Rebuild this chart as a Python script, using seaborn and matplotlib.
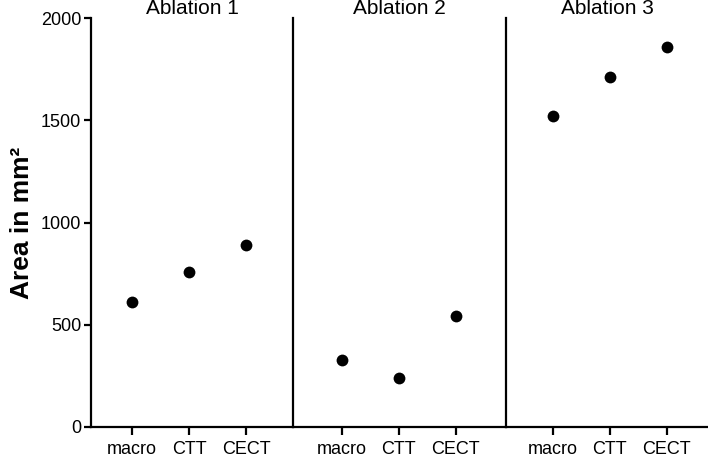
import matplotlib
matplotlib.use("Agg")
import matplotlib.pyplot as plt
import pandas as pd
import seaborn as sns

# Values (area in mm^2)
methods = ["macro", "CTT", "CECT"]
ablations = ["Ablation 1", "Ablation 2", "Ablation 3"]
ablation_1 = [612, 760, 891]
ablation_2 = [327, 237, 543]
ablation_3 = [1521, 1714, 1858]
y_ticks = [0, 500, 1000, 1500, 2000]

df = pd.DataFrame({
    "ablation": [a for a in ablations for _ in methods],
    "method": methods * len(ablations),
    "area": ablation_1 + ablation_2 + ablation_3,
})

sns.set_theme(style="ticks")
plt.rcParams["font.family"] = ["Liberation Sans", "DejaVu Sans"]
plt.rcParams["axes.linewidth"] = 1.6
for key in ["text.color", "axes.labelcolor", "xtick.color", "ytick.color", "axes.edgecolor"]:
    plt.rcParams[key] = "black"

# panel widths / x-limits so the category ticks land where they do in the original
panel_widths = [202, 213, 202]
panel_xlims = [(-0.72, 2.82), (-0.86, 2.88), (-0.82, 2.72)]

fig, axes = plt.subplots(1, 3, sharey=True, figsize=(7.08, 4.57), dpi=100,
                         gridspec_kw={"width_ratios": panel_widths})
fig.subplots_adjust(left=0.1285, right=1.0, bottom=0.066, top=0.96, wspace=0)

for ax, name, xlim in zip(axes, ablations, panel_xlims):
    sub = df[df["ablation"] == name]
    sns.stripplot(data=sub, x="method", y="area", order=methods, jitter=False,
                  color="black", size=8.5, linewidth=0, ax=ax)
    ax.set_xlim(*xlim)
    ax.set_ylim(0, 2000)
    ax.set_title(name, fontsize=15, pad=-0.5)
    ax.set_xlabel("")
    ax.set_ylabel("")
    for side in ["top", "right"]:
        ax.spines[side].set_visible(False)
    ax.tick_params(axis="x", length=6, width=1.6, pad=4, labelsize=13)
    ax.tick_params(axis="y", length=5, width=1.6, pad=2, labelsize=13)

for ax in axes[1:]:
    ax.tick_params(axis="y", left=False, labelleft=False)

axes[0].set_yticks(y_ticks)
axes[0].set_ylabel("Area in mm²", fontsize=19, fontweight="bold", labelpad=5)

plt.savefig("out.png", dpi=100)
